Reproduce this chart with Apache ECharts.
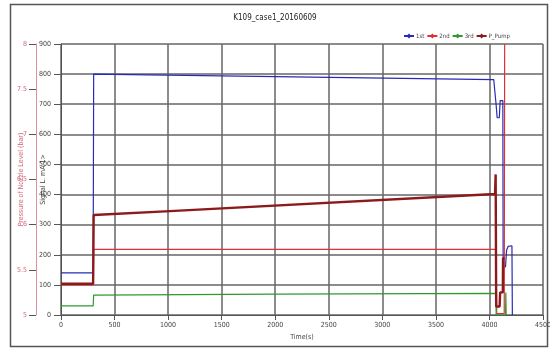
<!DOCTYPE html>
<html><head><meta charset="utf-8">
<script src="https://cdn.jsdelivr.net/npm/echarts@6/dist/echarts.min.js"></script>
<style>html,body{margin:0;padding:0;background:#fff}#c{width:550px;height:349px}</style>
</head><body><div id="c"></div>
<script>
const titleText = 'K109_case1_20160609';
const seriesNames = ['1st', '2nd', '3rd', 'P_Pump'];
const xTicks = [0, 500, 1000, 1500, 2000, 2500, 3000, 3500, 4000, 4500];
const pressureTicks = [5, 5.5, 6, 6.5, 7, 7.5, 8];
const first = [[0,140],[300,140],[305,800],[4040,782],[4052,780],[4062,700],[4072,655],[4092,655],[4100,712],[4125,712],[4128,160],[4150,160],[4160,215],[4175,228],[4210,230],[4214,0]];
const second = [[0,100],[300,100],[305,218],[4060,218],[4064,120],[4068,5],[4138,5],[4142,900]];
const third = [[0,30],[300,30],[305,66],[2000,69],[4058,72],[4063,0],[4150,0],[4153,75],[4156,0]];
const pPump = [[0,104],[300,104],[305,332],[1017,345],[4052,402],[4058,467],[4063,28],[4095,28],[4100,75],[4125,75],[4127,188],[4140,190]];

const chart = echarts.init(document.getElementById('c'));
const font = 'Liberation Sans Narrow, DejaVu Sans Condensed, Liberation Sans, sans-serif';
function mk(name, data, color, width) {
  return { name, type: 'line', data, symbol: 'diamond', symbolSize: 6, showSymbol: false,
    lineStyle: { color, width }, itemStyle: { color }, animation: false, yAxisIndex: 0 };
}
chart.setOption({
  backgroundColor: '#fff',
  animation: false,
  title: { text: titleText, left: 'center', top: 9, textStyle: { fontSize: 8, fontWeight: 'normal', color: '#222', fontFamily: font } },
  legend: { data: seriesNames, left: 398, top: 28, itemWidth: 10, itemHeight: 6, itemGap: 2,
    textStyle: { fontSize: 6, color: '#444', fontFamily: font, padding: [0, 0, 0, -3] } },
  grid: { left: 61, right: 7, top: 44, bottom: 34, containLabel: false, outerBoundsMode: 'none' },
  graphic: [{ type: 'rect', shape: { x: 10.5, y: 4.5, width: 537, height: 342 },
    style: { fill: 'none', stroke: '#555', lineWidth: 1.5 }, z: 100 }],
  xAxis: {
    type: 'value', min: xTicks[0], max: xTicks[xTicks.length - 1], interval: 500,
    name: 'Time(s)', nameLocation: 'middle', nameGap: 19,
    nameTextStyle: { fontSize: 7, color: '#444', fontFamily: font },
    axisLine: { lineStyle: { color: '#555', width: 1 } },
    axisTick: { show: true, length: 5, lineStyle: { color: '#555' } },
    axisLabel: { fontSize: 7, color: '#444', margin: 7, fontFamily: font, formatter: v => String(v) },
    splitLine: { show: true, lineStyle: { color: '#666', width: 1.5 } }
  },
  yAxis: [{
    type: 'value', min: 0, max: 900, interval: 100, position: 'left',
    name: 'Signal L. mA 1>', nameLocation: 'middle', nameGap: 14, nameRotate: 90, nameMoveOverlap: false,
    nameTextStyle: { fontSize: 7, color: '#444', fontFamily: font },
    axisLine: { show: true, lineStyle: { color: '#555', width: 1 } },
    axisTick: { show: true, length: 7, lineStyle: { color: '#555' } },
    axisLabel: { fontSize: 7, color: '#444', margin: 10, fontFamily: font },
    splitLine: { show: true, lineStyle: { color: '#666', width: 1.5 } }
  }, {
    type: 'value', min: pressureTicks[0], max: pressureTicks[pressureTicks.length - 1], interval: 0.5,
    position: 'left', offset: 25,
    name: 'Pressure of Nozzle Level (bar)', nameLocation: 'middle', nameGap: 11, nameRotate: 90, nameMoveOverlap: false,
    nameTextStyle: { fontSize: 7, color: '#d06a7a', fontFamily: font },
    axisLine: { show: true, lineStyle: { color: '#e0909c', width: 1 } },
    axisTick: { show: true, length: 7, lineStyle: { color: '#555' } },
    axisLabel: { fontSize: 7, color: '#d06a7a', margin: 9, fontFamily: font },
    splitLine: { show: false }
  }],
  series: [
    mk('1st', first, '#2a2ab8', 1.2),
    mk('2nd', second, '#e03036', 1.2),
    mk('3rd', third, '#2e9a2e', 1.2),
    mk('P_Pump', pPump, '#8c1a1a', 2.4)
  ]
});
</script></body></html>
